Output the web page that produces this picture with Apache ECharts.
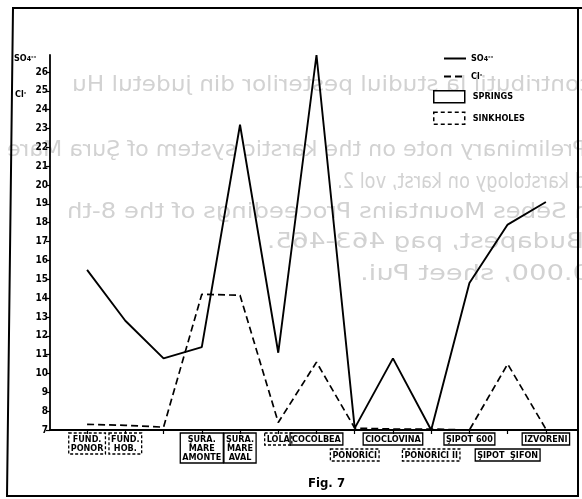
<!DOCTYPE html>
<html style="height: 100%">
  <head>
    <meta charset="utf-8" />
    <title>Fig. 7</title>
    <script src="https://cdn.jsdelivr.net/npm/echarts@6/dist/echarts.min.js"></script>
  </head>
  <body style="height: 100%; margin: 0; background: #fff">
    <div id="main" style="width: 582px; height: 499px"></div>
    <script type="text/javascript">
      // sites along the x axis
      var categories = [
        "FUND.\nPONOR", "FUND.\nHOB.", "ŞURA.\nMARE", "ŞURA.\nMARE\nAMONTE", "ŞURA.\nMARE\nAVAL",
        "LOLA", "COCOLBEA", "PONORICI", "CIOCLOVINA", "PONORICI II",
        "ŞIPOT 600", "ŞIPOT  ŞIFON", "IZVORENI"
      ];
      // spring = solid box, sink = dashed box
      var siteType = ["sink", "sink", "spring", "spring", "spring", "sink", "spring", "sink", "spring", "sink", "spring", "spring", "spring"];
      // label row under the axis (2 = lower row)
      var labelRow = [1, 1, 1, 1, 1, 1, 1, 2, 1, 2, 1, 2, 1];

      var so4 = [15.5, 12.8, 10.8, 11.4, 23.2, 11.1, 26.9, 7.1, 10.8, 7.0, 14.8, 17.9, 19.1];
      var cl = [7.3, 7.25, 7.15, 14.2, 14.15, 7.4, 10.6, 7.1, 7.05, 7.05, 7.0, 10.5, 7.05];

      var yTicks = [7, 8, 9, 10, 11, 12, 13, 14, 15, 16, 17, 18, 19, 20, 21, 22, 23, 24, 25, 26];

      // faint text showing through from the back of the page (mirrored)
      var ghostLines = [
        "contributii la studiul pesterilor din judetul Hu",
        "Preliminary note on the karstic system of Şura Mare",
        "d karstology on karst, vol 2.",
        "n Sebes Mountains Proceedings of the 8-th",
        "Budapest, pag 463-465.",
        "0.000, sheet Pui."
      ];

      var labelFont = '"Liberation Sans Narrow", "DejaVu Sans Condensed", "Roboto", sans-serif';
      var xMin = -0.97, xMax = 12.84;

      var myChart = echarts.init(document.getElementById("main"));

      function idx(arr) {
        return arr.map(function (v, i) { return [i, v]; });
      }

      // one label-only x axis per box style and row
      function labelAxis(type, row) {
        var vals = [];
        for (var i = 0; i < categories.length; i++) {
          if (siteType[i] === type && labelRow[i] === row) vals.push(i);
        }
        return {
          type: "value", min: xMin, max: xMax, position: "bottom",
          axisLine: { show: false }, axisTick: { show: false }, splitLine: { show: false },
          axisLabel: {
            customValues: vals,
            formatter: function (v) { return categories[Math.round(v)]; },
            margin: row === 1 ? 3 : 19,
            color: "#000", fontFamily: labelFont, fontWeight: "bold", fontSize: 9, lineHeight: 9,
            borderColor: "#000", borderWidth: 1.3,
            borderType: type === "sink" ? [3, 2] : "solid",
            padding: [2, 2, 1, 2]
          }
        };
      }

      var sub = { fontSize: 7, verticalAlign: "bottom", fontWeight: "bold", fontFamily: labelFont, color: "#000" };
      var sup = { fontSize: 7, verticalAlign: "top", fontWeight: "bold", fontFamily: labelFont, color: "#000" };

      var graphics = [
        {
          type: "polygon", silent: true, z: 1,
          shape: { points: [[13, 8], [584, 8], [578, 8], [578, 496], [7, 496]] },
          style: { fill: null, stroke: "#000", lineWidth: 2 }
        },
        {
          type: "text", left: 14, top: 54,
          style: { text: "SO{s|4}{p|--}", rich: { s: sub, p: sup }, font: "bold 9px " + labelFont, fill: "#000" }
        },
        {
          type: "text", left: 15, top: 90,
          style: { text: "Cl{p|-}", rich: { p: sup }, font: "bold 9px " + labelFont, fill: "#000" }
        }
      ];

      var ghostFont = '21px "DejaVu Sans"';
      var ghostRight = [592, 586, 586, 590, 584, 590];
      var ghostLeft = [72, 7, 337, 67, 267, 360];
      var ghostY = [86, 151, 183, 213, 243, 275];
      var ctx = document.createElement("canvas").getContext("2d");
      ctx.font = ghostFont;
      for (var g = 0; g < ghostLines.length; g++) {
        var w = ctx.measureText(ghostLines[g]).width;
        graphics.push({
          type: "text", silent: true, z: -10, x: ghostRight[g], y: ghostY[g],
          scaleX: -(ghostRight[g] - ghostLeft[g]) / w,
          style: { text: ghostLines[g], fill: "#d2d2d2", font: ghostFont, verticalAlign: "middle", align: "left" }
        });
      }

      var option = {
        animation: false,
        backgroundColor: "#fff",
        title: {
          text: "Fig. 7", left: 303, top: 472,
          textStyle: { fontSize: 13, fontWeight: "bold", color: "#000", fontFamily: labelFont }
        },
        legend: [
          {
            data: ["SO4", "Cl"], orient: "vertical", left: 443, top: 54, padding: 0,
            itemWidth: 22, itemHeight: 10, itemGap: 9,
            itemStyle: { opacity: 0 },
            formatter: function (n) { return n === "SO4" ? "SO{s|4}{p|--}" : "Cl{p|-}"; },
            textStyle: { fontSize: 9, fontWeight: "bold", fontFamily: labelFont, color: "#000", rich: { s: sub, p: sup } }
          },
          {
            data: [
              { name: "SPRINGS", icon: "rect", itemStyle: { color: "#fff", borderColor: "#000", borderWidth: 1.5 } },
              { name: "SINKHOLES", icon: "rect", itemStyle: { color: "#fff", borderColor: "#000", borderWidth: 1.5, borderType: [4, 3] } }
            ],
            orient: "vertical", left: 433, top: 90, padding: 0,
            itemWidth: 31, itemHeight: 12, itemGap: 8,
            textStyle: { fontSize: 9, fontWeight: "bold", fontFamily: labelFont, color: "#000", padding: [0, 0, 0, 3] }
          }
        ],
        grid: { left: 50, right: 4, top: 55, bottom: 69 },
        xAxis: [
          {
            type: "value", min: xMin, max: xMax,
            axisLine: { lineStyle: { color: "#000", width: 1.8 } },
            axisTick: { customValues: [0, 1, 2, 3, 4, 5, 6, 7, 8, 9, 10, 11, 12], length: 4, lineStyle: { color: "#000", width: 1.2 } },
            axisLabel: { show: false },
            splitLine: { show: false }
          },
          labelAxis("spring", 1),
          labelAxis("sink", 1),
          labelAxis("spring", 2),
          labelAxis("sink", 2)
        ],
        yAxis: {
          type: "value", min: 7, max: 26.9, interval: 1,
          axisLine: { show: true, onZero: false, lineStyle: { color: "#000", width: 1.8 } },
          axisTick: { show: true, customValues: yTicks, length: 4, lineStyle: { color: "#000", width: 1.2 } },
          axisLabel: {
            customValues: yTicks, margin: 2, color: "#000",
            fontFamily: labelFont, fontWeight: "bold", fontSize: 10
          },
          splitLine: { show: false }
        },
        graphic: graphics,
        series: [
          {
            name: "SO4", type: "line", xAxisIndex: 0, data: idx(so4),
            symbol: "none", z: 3,
            lineStyle: { color: "#000", width: 1.9 }, itemStyle: { color: "#000" }
          },
          {
            name: "Cl", type: "line", xAxisIndex: 0, data: idx(cl),
            symbol: "none", z: 3,
            lineStyle: { color: "#000", width: 1.7, type: [7, 4] }, itemStyle: { color: "#000" }
          },
          { name: "SPRINGS", type: "bar", xAxisIndex: 0, data: [], itemStyle: { color: "#fff", borderColor: "#000", borderWidth: 1.5 } },
          { name: "SINKHOLES", type: "bar", xAxisIndex: 0, data: [], itemStyle: { color: "#fff", borderColor: "#000", borderWidth: 1.5, borderType: [4, 3] } }
        ]
      };

      myChart.setOption(option);
    </script>
  </body>
</html>
